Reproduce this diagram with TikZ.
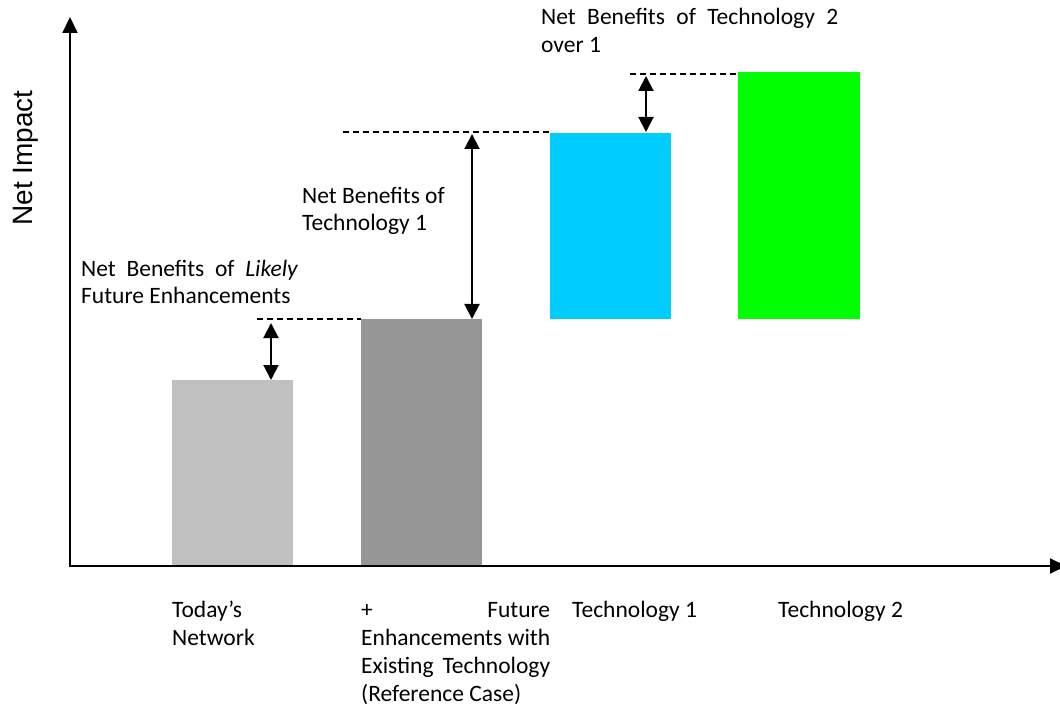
\documentclass[tikz,border=0pt]{standalone}
\usepackage{fontspec}
\setmainfont{Carlito}
\newfontfamily\arialf{Liberation Sans}
\usetikzlibrary{arrows.meta}
\definecolor{barA}{HTML}{C0C0C0}
\definecolor{barB}{HTML}{969696}
\definecolor{barC}{HTML}{00CCFF}
\definecolor{barD}{HTML}{00FF00}
\tikzset{
  bar/.style={draw=none},
  axisline/.style={line width=2pt,-{Triangle[length=16pt,width=15pt]}},
  gap/.style={line width=2pt,{Triangle[length=15pt,width=15pt]}-{Triangle[length=15pt,width=15pt]}},
  guide/.style={line width=1.3pt,dash pattern=on 6pt off 4pt},
  lbl/.style={anchor=base west,inner sep=0pt,font=\fontsize{23.5pt}{28pt}\selectfont},
}
\begin{document}
\begin{tikzpicture}[x=1pt,y=-1pt]
\useasboundingbox (0,0) rectangle (1060,711);
% bars
\fill[barA] (172,380) rectangle (293,566);
\fill[barB] (361,319) rectangle (482,566);
\fill[barC] (550,133) rectangle (671,319);
\fill[barD] (738,72) rectangle (860,319);
% axes
\coordinate (O) at (70,566);
\coordinate (Ytip) at (70,17);
\coordinate (Xtip) at (1066,566);
\draw[line width=2pt] (70,566) -- (71,566);
\draw[axisline] ([yshift=-1pt]O) -- (Ytip);
\draw[axisline] ([xshift=-1pt]O) -- (Xtip);
% dashed guides
\coordinate (g1a) at (257,319); \coordinate (g1b) at (361,319);
\coordinate (g2a) at (343,132); \coordinate (g2b) at (550,132);
\coordinate (g3a) at (630,74);  \coordinate (g3b) at (738,74);
\draw[guide] (g1a) -- (g1b);
\draw[guide] (g2a) -- (g2b);
\draw[guide] (g3a) -- (g3b);
% gap arrows
\coordinate (a1t) at (271,323); \coordinate (a1b) at (271,380);
\coordinate (a2t) at (472,134); \coordinate (a2b) at (472,319);
\coordinate (a3t) at (646,76);  \coordinate (a3b) at (646,132);
\draw[gap] (a1t) -- (a1b);
\draw[gap] (a2t) -- (a2b);
\draw[gap] (a3t) -- (a3b);
% labels
\node[rotate=90,anchor=base,inner sep=0pt,font=\arialf\fontsize{28pt}{32pt}\selectfont] (ylab) at (32,158) {Net Impact};
\node[lbl] (t21) at (541,25) {\vtop{\baselineskip=28pt\hbox to 297pt{Net\hfil Benefits\hfil of\hfil Technology\hfil 2}\hbox{over 1}}};
\node[lbl] (t1) at (302,204) {\vtop{\baselineskip=27pt\hbox{Net Benefits of}\hbox{Technology 1}}};
\node[lbl] (tl) at (81,277) {\vtop{\baselineskip=27pt\hbox to 217pt{Net\hfil Benefits\hfil of\hfil \textit{Likely}}\hbox{Future Enhancements}}};
\node[lbl] (c1) at (172,617) {\vtop{\baselineskip=28pt\hbox{Today’s}\hbox{Network}}};
\node[lbl] (c2) at (361,617) {\vtop{\baselineskip=28pt\hbox to 189pt{+\hfil Future}\hbox to 189pt{Enhancements\hfil with}\hbox to 189pt{Existing\hfil Technology}\hbox{(Reference Case)}}};
\node[lbl] (c3) at (572,617) {Technology 1};
\node[lbl] (c4) at (778,617) {Technology 2};
\end{tikzpicture}
\end{document}
